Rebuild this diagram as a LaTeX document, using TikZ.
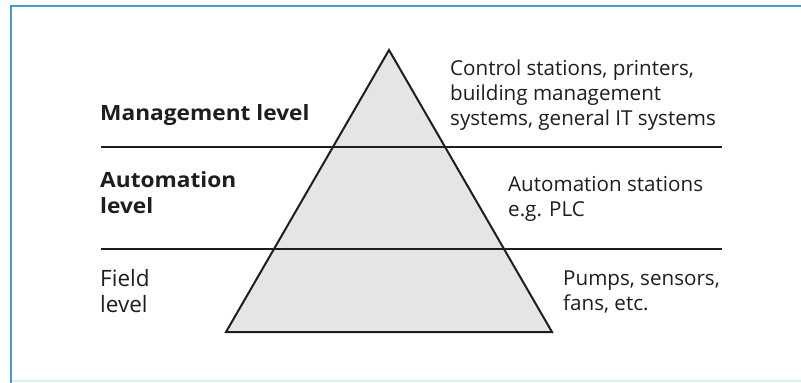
\documentclass[tikz,border=0pt]{standalone}
\usepackage{fontspec}
\setmainfont{Open Sans}[BoldFeatures={FakeStretch=1.08}]
\definecolor{frameblue}{RGB}{74,152,204}
\definecolor{framelight}{RGB}{222,235,245}
\definecolor{pyrfill}{RGB}{228,229,231}
\definecolor{ink}{RGB}{30,30,30}
\begin{document}
\begin{tikzpicture}[x=1pt,y=-1pt,
  lvl/.style={anchor=base west,inner sep=0pt,align=left,text=ink,font=\fontsize{21}{26}\selectfont\bfseries},
  lvlplain/.style={lvl,font=\fontsize{22.5}{26}\selectfont},
  desc/.style={anchor=base west,inner sep=0pt,align=left,text=ink,font=\fontsize{20.6}{25}\selectfont},
  sep/.style={draw=ink,line width=1.4pt},
  pyr/.style={draw=ink,line width=2pt,fill=pyrfill,line join=miter}]
\useasboundingbox (0,0) rectangle (801,383);
\fill[white] (0,0) rectangle (801,383);
% frame
\draw[framelight,line width=1.5pt] (11,381) -- (801,381);
\draw[frameblue,line width=1.5pt] (11,383) -- (11,6) -- (801,6);
% pyramid
\coordinate (apex) at (389,50);
\coordinate (bl) at (226,332);
\coordinate (br) at (552,332);
\draw[pyr] (apex) -- (bl) -- (br) -- cycle;
% separators
\coordinate (s1l) at (101,147);
\coordinate (s1r) at (722,147);
\coordinate (s2l) at (101,249);
\coordinate (s2r) at (722,249);
\draw[sep] (s1l) -- (s1r);
\draw[sep] (s2l) -- (s2r);
% level labels (anchor = baseline of last line)
\node[lvl] (mgmt) at (100,120) {Management level};
\node[lvl] (auto) at (100,213) {Automation\\level};
\node[lvlplain] (field) at (100,312) {Field\\level};
% descriptions
\node[desc] (d1) at (450,125) {Control stations, printers,\\building management\\systems, general IT systems};
\node[desc] (d2) at (508,216) {Automation stations\\e.g. PLC};
\node[desc] (d3) at (563,310) {Pumps, sensors,\\fans, etc.};
\end{tikzpicture}
\end{document}
